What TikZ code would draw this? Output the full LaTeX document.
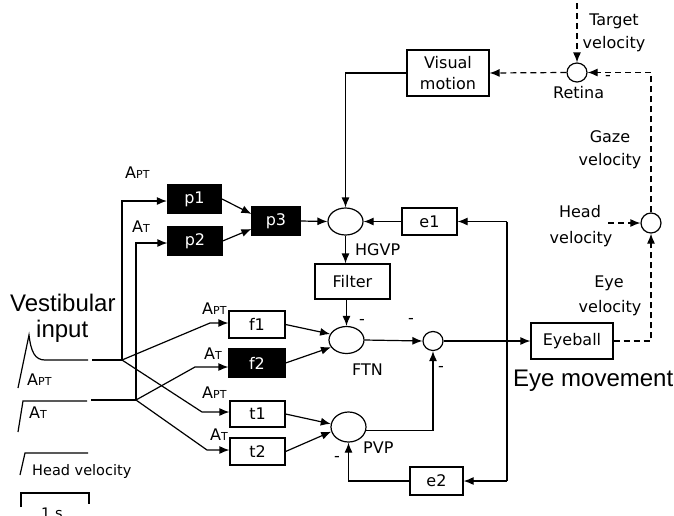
\documentclass[tikz,border=0pt]{standalone}
\usepackage{fontspec}
\setmainfont{DejaVu Sans}
\newfontfamily\bigfont{Liberation Sans}
\usetikzlibrary{shapes.geometric,arrows.meta,calc}
\begin{document}
\begin{tikzpicture}[x=1pt,y=-1pt,
  lw/.style={line width=1.2pt},
  arr/.style={lw,-{Latex[length=10pt,width=8pt]}},
  darr/.style={arr,dash pattern=on 6pt off 4pt},
  dline/.style={lw,dash pattern=on 6pt off 4pt},
  basebox/.style={draw,lw,rectangle,inner sep=0pt,font=\fontsize{16}{18}\selectfont},
  whtbox/.style={basebox,fill=white},
  blkbox/.style={basebox,fill=black,text=white},
  sumnode/.style={draw,lw,ellipse,inner sep=0pt},
  lbl/.style={font=\fontsize{16}{18}\selectfont,inner sep=0pt},
  smlbl/.style={font=\fontsize{14.5}{16}\selectfont,inner sep=0pt},
  biglbl/.style={font=\bigfont\fontsize{24}{26}\selectfont,inner sep=0pt},
]
\useasboundingbox (0,0) rectangle (674,515);
\newcommand{\apt}{A{\fontsize{11}{12}\selectfont PT}}
\newcommand{\at}{A{\fontsize{11}{12}\selectfont T}}

% boxes
\node[blkbox,minimum width=54pt,minimum height=28pt] (p1) at (194.5,199) {p1};
\node[blkbox,minimum width=54pt,minimum height=28pt] (p2) at (195,241) {p2};
\node[blkbox,minimum width=48pt,minimum height=28pt] (p3) at (276,221) {p3};
\node[whtbox,minimum width=56pt,minimum height=27pt] (f1) at (257,324.5) {f1};
\node[blkbox,minimum width=56pt,minimum height=28pt] (f2) at (257,363) {f2};
\node[whtbox,minimum width=55pt,minimum height=26pt] (t1) at (257.5,414) {t1};
\node[whtbox,minimum width=55pt,minimum height=27pt] (t2) at (257.5,451.5) {t2};
\node[whtbox,minimum width=55pt,minimum height=27pt] (e1) at (429.5,221.5) {e1};
\node[whtbox,minimum width=53pt,minimum height=28pt] (e2) at (436.5,481) {e2};
\node[whtbox,minimum width=75pt,minimum height=35pt] (filter) at (352.5,281.5) {Filter};
\node[whtbox,minimum width=82pt,minimum height=46pt,align=center,
      font=\fontsize{16}{21}\selectfont] (vis) at (448,73) {Visual\\motion};
\node[whtbox,minimum width=82pt,minimum height=36pt] (eyeball) at (572,341) {Eyeball};

% summing nodes
\node[sumnode,minimum width=35pt,minimum height=27pt] (hgvp) at (345.5,221.5) {};
\node[sumnode,minimum width=35pt,minimum height=27pt] (ftn) at (346.5,340) {};
\node[sumnode,minimum width=35pt,minimum height=30pt] (pvp) at (348.5,427) {};
\node[sumnode,minimum width=20pt,minimum height=19pt] (sum) at (433,341) {};
\node[sumnode,minimum width=20pt,minimum height=19pt] (retina) at (577,72.5) {};
\node[sumnode,minimum width=20pt,minimum height=20pt] (headsum) at (651,223) {};

% coordinates
\coordinate (b1) at (122,360);
\coordinate (b2) at (136,400);
\coordinate (in1) at (92,360);
\coordinate (in2) at (91,400);
\coordinate (kp1) at (122,201);
\coordinate (kp2) at (136,243);
\coordinate (kf1) at (210,323);
\coordinate (kf2) at (195,367);
\coordinate (kt1) at (202,412);
\coordinate (kt2) at (207,450);
\coordinate (fbtop) at (507,221.5);
\coordinate (fbbot) at (507,481);
\coordinate (tgt) at (577,3);
\coordinate (hv) at (608,223);
\coordinate (gzc) at (651,72.5);
\coordinate (eyc) at (651,341);

% input waveforms
\draw[lw] (18,388) -- (29,335) .. controls (31,352) and (35,360) .. (45,360) -- (88,360);
\draw[lw] (18,432) -- (23,401) -- (87,401);
\draw[lw] (20,475) -- (25,453) -- (88,453);
\draw[lw] (21,507) -- (21,493) -- (89,493) -- (89,504);

% input lines
\draw[lw] (in1) -- (b1);
\draw[lw] (in2) -- (b2);
\draw[arr] (b1) -- (kp1) -- (kp1 -| p1.west);
\draw[arr] (b2) -- (kp2) -- (kp2 -| p2.west);
\draw[arr] (b1) -- (kf1) -- (kf1 -| f1.west);
\draw[arr] (b1) -- (kt1) -- (kt1 -| t1.west);
\draw[arr] (b2) -- (kf2) -- (kf2 -| f2.west);
\draw[arr] (b2) -- (kt2) -- (kt2 -| t2.west);

% pursuit paths
\draw[arr] (p1.east) -- (p3.164);
\draw[arr] (p2.east) -- (p3.198);
\draw[arr] (p3.east) -- (hgvp.west);
\draw[arr] (vis.west) -| (hgvp.north);
\draw[arr] (e1.west) -- (hgvp.east);
\draw[arr] (hgvp.south) -- (hgvp.south |- filter.north);
\draw[arr] (ftn.north |- filter.south) -- (ftn.north);
\draw[arr] (f1.east) -- (ftn.160);
\draw[arr] (f2.east) -- (ftn.205);
\draw[arr] (t1.east) -- (pvp.170);
\draw[arr] (t2.east) -- (pvp.195);
\draw[arr] (ftn.east) -- (sum.west);
\draw[arr] (pvp.-12) -| (sum.south);
\draw[arr] (e2.west) -| (pvp.south);
\draw[arr] (sum.east) -- (eyeball.west);
\draw[lw] (fbtop) -- (fbbot);
\draw[arr] (fbtop) -- (e1.east);
\draw[arr] (fbbot) -- (e2.east);

% dashed (physical) paths
\draw[darr] (retina.west) -- (vis.east);
\draw[darr] (tgt) -- (retina.north);
\draw[darr] (headsum.north) -- (gzc) -- (retina.east);
\draw[darr] (eyeball.east) -- (eyc) -- (headsum.south);
\draw[darr] (hv) -- (headsum.west);

% minus signs
\node[lbl] (m1) at (362,322) {-};
\node[lbl] (m2) at (411,321) {-};
\node[lbl] (m3) at (441,369) {-};
\node[lbl] (m4) at (337,459) {-};
\node[lbl] (m5) at (608,78) {-};

% labels
\node[biglbl,anchor=base west] (vest) at (10,311) {Vestibular};
\node[biglbl,anchor=base west] (inp) at (36,337) {input};
\node[biglbl,anchor=base west] (eyemv) at (513,386) {Eye movement};
\node[lbl,anchor=base west] (lw1) at (27,385) {\apt};
\node[lbl,anchor=base west] (lw2) at (29,418) {\at};
\node[smlbl,anchor=base west] (lw3) at (32,475) {Head velocity};
\node[smlbl,anchor=base west] (lsec) at (41,518) {1 s};
\node[lbl,anchor=base west] (la1) at (125,178) {\apt};
\node[lbl,anchor=base west] (la2) at (132,232) {\at};
\node[lbl,anchor=base west] (la3) at (202,314) {\apt};
\node[lbl,anchor=base west] (la4) at (204,359) {\at};
\node[lbl,anchor=base west] (la5) at (202,398) {\apt};
\node[lbl,anchor=base west] (la6) at (210,440) {\at};
\node[lbl,anchor=base west] (lhgvp) at (355,255) {HGVP};
\node[lbl,anchor=base west] (lftn) at (352,375) {FTN};
\node[lbl,anchor=base west] (lpvp) at (363,453) {PVP};
\node[lbl,anchor=base west] (lret) at (553,98) {Retina};
\node[lbl,anchor=base] (ltg1) at (614,25) {Target};
\node[lbl,anchor=base] (ltg2) at (614,48) {velocity};
\node[lbl,anchor=base] (lgz1) at (610,142) {Gaze};
\node[lbl,anchor=base] (lgz2) at (610,165) {velocity};
\node[lbl,anchor=base] (lhd1) at (580,217) {Head};
\node[lbl,anchor=base] (lhd2) at (581,243) {velocity};
\node[lbl,anchor=base] (ley1) at (609,287) {Eye};
\node[lbl,anchor=base] (ley2) at (610,312) {velocity};
\end{tikzpicture}
\end{document}
